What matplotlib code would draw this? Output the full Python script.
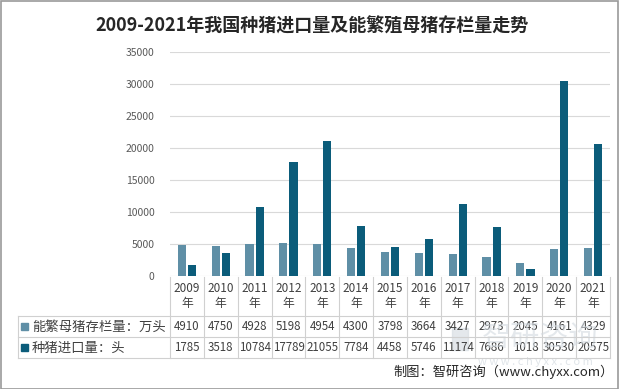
import numpy as np
import matplotlib
matplotlib.use("Agg")
import matplotlib.pyplot as plt
from matplotlib.transforms import blended_transform_factory
from matplotlib.patches import Rectangle

plt.rcParams['font.family'] = ['Noto Sans CJK SC', 'DejaVu Sans']

years = ["2009", "2010", "2011", "2012", "2013", "2014", "2015",
         "2016", "2017", "2018", "2019", "2020", "2021"]
sows = [4910, 4750, 4928, 5198, 4954, 4300, 3798, 3664, 3427, 2973, 2045, 4161, 4329]
imports = [1785, 3518, 10784, 17789, 21055, 7784, 4458, 5746, 11174, 7686, 1018, 30530, 20575]
names = ["能繁母猪存栏量：万头", "种猪进口量：头"]
colors = ["#5f8fa6", "#0b5c7a"]

W, H = 623, 389
fig = plt.figure(figsize=(W / 100, H / 100), dpi=100)
fig.patch.set_facecolor("white")

def fx(px):
    return px / W

def fy(py):
    return 1 - py / H

ax = fig.add_axes([fx(170), fy(276), fx(610) - fx(170), fy(52) - fy(276)])
x = np.arange(len(years))
bw = 0.24
ax.bar(x - bw / 2 - 0.03, sows, bw, color=colors[0], zorder=3)
ax.bar(x + bw / 2 + 0.03, imports, bw, color=colors[1], zorder=3)
ax.set_xlim(-0.5, len(years) - 0.5)
ax.set_ylim(0, 35000)
ax.set_yticks(np.arange(0, 35001, 5000))
ax.yaxis.grid(True, color="#d9d9d9", lw=0.8, zorder=0)
ax.tick_params(axis="y", length=0, labelsize=7.5, labelcolor="#595959", pad=11)
ax.set_xticks([])
for s in ax.spines.values():
    s.set_visible(False)

# watermark (behind the table text)
fig.text(fx(540), fy(338), "智研咨询", ha="center", va="center", fontsize=21,
         color="#d3dae0", alpha=0.6, zorder=0)
fig.add_artist(Rectangle((fx(452), fy(350)), 16 / W, 22 / H, color="#d3dae0",
                         alpha=0.6, zorder=0, transform=fig.transFigure))
fig.text(fx(535), fy(362), "w w w . c h y x x . c o m", ha="center", va="center",
         fontsize=8, color="#d3dae0", alpha=0.7, zorder=0)

# data table under the axis
tr = blended_transform_factory(ax.transData, fig.transFigure)
line_c = "#d0d0d0"
y_top, y_r1, y_r2, y_bot = 277, 316, 337, 358
for i in range(len(years) + 1):
    ax.plot([i - 0.5, i - 0.5], [fy(y_top), fy(y_bot)], color=line_c, lw=0.8,
            transform=tr, clip_on=False)
for yy in (y_r1, y_r2, y_bot):
    fig.add_artist(plt.Line2D([fx(18), fx(610)], [fy(yy), fy(yy)], color=line_c, lw=0.8))
fig.add_artist(plt.Line2D([fx(18), fx(18)], [fy(y_r1), fy(y_bot)], color=line_c, lw=0.8))

for i, yr in enumerate(years):
    ax.text(i, fy((y_top + y_r1) / 2), yr + "\n年", transform=tr, ha="center", va="center",
            fontsize=8.5, color="#404040", linespacing=1.2, clip_on=False)
    ax.text(i, fy((y_r1 + y_r2) / 2), str(sows[i]), transform=tr, ha="center", va="center",
            fontsize=8.3, color="#404040", clip_on=False)
    ax.text(i, fy((y_r2 + y_bot) / 2), str(imports[i]), transform=tr, ha="center", va="center",
            fontsize=8.3, color="#404040", clip_on=False)

for k, yy in enumerate([(y_r1 + y_r2) / 2, (y_r2 + y_bot) / 2]):
    fig.add_artist(Rectangle((fx(21), fy(yy) - 3.5 / H), 7 / W, 7 / H,
                             color=colors[k], transform=fig.transFigure))
    fig.text(fx(32), fy(yy), names[k], ha="left", va="center", fontsize=9.6, color="#404040")

# title, source
fig.text(fx(312), fy(26), "2009-2021年我国种猪进口量及能繁殖母猪存栏量走势",
         ha="center", va="center", fontsize=13, fontweight="bold", color="#262626")
fig.text(fx(614), fy(372), "制图：智研咨询（www.chyxx.com）", ha="right", va="center",
         fontsize=9.5, color="#262626")

fig.add_artist(Rectangle((0.5 / W, 0.5 / H), fx(618) - 0.5 / W, 1 - 1.5 / H, fill=False,
                         ec="#9a9a9a", lw=1.2, transform=fig.transFigure))

fig.savefig("out.png", dpi=100)
